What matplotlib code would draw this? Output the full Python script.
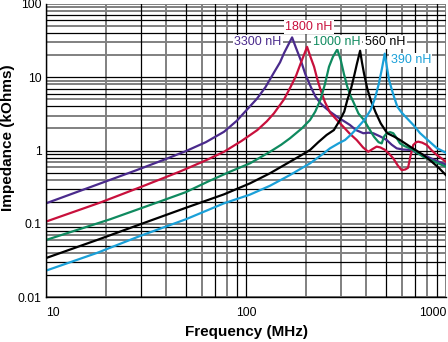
import numpy as np
import matplotlib
matplotlib.use("Agg")
import matplotlib.pyplot as plt

plt.rcParams['font.family'] = ['Liberation Sans', 'DejaVu Sans']

# Impedance vs frequency for five chip inductors (frequency in MHz, impedance in kOhms)
f_3300 = [10, 20, 28.4, 40, 50, 63, 77.6, 90, 100, 113.5, 125, 138, 148, 155, 163, 170,
          177, 187.7, 198, 210.6, 222, 236, 250, 263, 290, 310, 331, 355, 386, 410, 433,
          470, 505, 535, 567, 610, 661, 720, 770, 870, 1000]
z_3300 = [0.19, 0.38, 0.54, 0.77, 0.98, 1.3, 1.8, 2.55, 3.5, 5.1, 7.3, 11.6, 16, 21.4, 28, 35,
          26, 17.2, 11, 7.43, 5.5, 4.4, 3.8, 3.39, 2.8, 2.5, 2.23, 1.9, 1.72, 1.75, 1.72,
          1.55, 1.39, 1.2, 1.07, 1.03, 1.02, 0.93, 0.87, 0.75, 0.64]

f_1800 = [10, 18.6, 30, 46.8, 62, 77.6, 95, 113.9, 127, 138, 155, 167.3, 178, 187.7, 196, 202,
          210, 219, 227, 236, 248, 263, 285, 306.6, 330, 357.7, 385, 408.7, 430, 450, 470,
          495.5, 520, 545, 575, 600, 625, 646, 665, 686, 710, 727, 760, 801, 850, 899, 950, 1000]
z_1800 = [0.107, 0.194, 0.32, 0.517, 0.72, 0.96, 1.35, 1.9, 2.5, 3.22, 5.0, 7.43, 10.5, 15.5, 21, 26,
          19, 13.9, 9.5, 6.7, 4.6, 3.3, 2.6, 2.11, 1.7, 1.39, 1.1, 0.96, 1.05, 1.13, 1.1,
          1.02, 0.9, 0.78, 0.62, 0.54, 0.55, 0.58, 0.85, 1.19, 1.3, 1.32, 1.28, 1.19, 1.0, 0.87, 0.78, 0.70]

f_1000 = [10, 20.9, 35, 50, 65, 83.2, 104.7, 131.8, 150, 166, 190, 209, 222, 236, 248, 260,
          272, 286, 297.6, 309, 321, 333, 346.7, 365, 389, 412, 436.5, 460, 477, 490, 505,
          525, 545, 565, 589, 620, 661, 710, 770, 880, 1000]
z_1000 = [0.06, 0.115, 0.19, 0.27, 0.38, 0.514, 0.668, 0.96, 1.2, 1.47, 2.0, 2.61, 3.4, 5.0, 8.0, 13.9,
          19, 24, 17.2, 11, 7.43, 5.6, 4.4, 3.2, 2.61, 2.0, 1.54, 1.3, 1.25, 1.55, 1.72,
          1.78, 1.72, 1.5, 1.25, 1.15, 1.07, 0.95, 0.82, 0.7, 0.60]

f_560 = [10, 18, 29.5, 50, 77.6, 104.7, 131.8, 166, 190, 209, 230, 253, 275, 295, 310, 321,
         335, 346.7, 358, 372, 380, 389, 404, 420, 445, 471.5, 490, 508.6, 550, 589, 625,
         661, 710, 770, 850, 920, 1000]
z_560 = [0.034, 0.06, 0.098, 0.165, 0.252, 0.356, 0.489, 0.703, 0.87, 1.016, 1.3, 1.63, 1.9, 2.61, 3.4, 4.89,
         7.0, 10.2, 15, 23, 16, 11.3, 7.0, 4.89, 3.3, 2.35, 2.0, 1.72, 1.55, 1.39, 1.25,
         1.13, 1.0, 0.87, 0.7, 0.58, 0.46]

f_390 = [10, 18, 29.5, 50, 77.6, 104.7, 131.8, 166, 209, 240, 263, 290, 312.6, 335, 360, 390,
         420, 442, 462, 478, 494, 506, 519, 545, 571, 600, 636, 690, 741, 820, 899, 1000]
z_390 = [0.0229, 0.04, 0.068, 0.115, 0.19, 0.25, 0.33, 0.463, 0.668, 0.88, 1.07, 1.25, 1.39, 1.65, 2.03, 2.6,
         3.57, 5.2, 8.27, 13, 21, 14, 9.17, 5.8, 3.96, 3.3, 2.78, 2.2, 1.73, 1.35, 1.08, 0.93]

labels = ["3300 nH", "1800 nH", "1000 nH", "560 nH", "390 nH"]
colors = ["#4a2a8c", "#c8103c", "#0f8a5f", "#000000", "#1aa0d8"]
freqs = [f_3300, f_1800, f_1000, f_560, f_390]
imps = [z_3300, z_1800, z_1000, z_560, z_390]

x_ticks = [10, 100, 1000]
x_ticklabels = ["10", "100", "1000"]
y_ticks = [0.01, 0.1, 1, 10, 100]
y_ticklabels = ["0.01", "0.1", "1", "10", "100"]

W, H = 448, 342
fig = plt.figure(figsize=(W / 100, H / 100), dpi=100)
ax = fig.add_axes([46 / W, 1 - 297 / H, 400 / W, 293 / H])
ax.set_xscale("log")
ax.set_yscale("log")
ax.set_xlim(10, 1000)
ax.set_ylim(0.01, 100)

BLACK = "#000000"
GRAY = "#808080"

# vertical grid: decade lines and per-decade multiples
for dec, dark in [(10, {1, 3, 5, 7, 9}), (100, {1, 5, 7, 9})]:
    for m in range(1, 10):
        v = dec * m
        if m in dark:
            ax.axvline(v, color=BLACK, lw=0.9, zorder=1.1)
        else:
            ax.axvline(v, color=GRAY, lw=1.4, zorder=1)
ax.axvline(1000, color=GRAY, lw=1.4, zorder=1)

# horizontal grid
for dec, dark in [(0.01, {2, 3, 5, 8, 9}), (0.1, {2, 3, 5, 8, 9}), (1, {1, 4, 6, 7}), (10, {1, 4, 6, 7})]:
    for m in range(1, 10):
        v = dec * m
        if m in dark:
            ax.axhline(v, color=BLACK, lw=0.9, zorder=1.1)
        else:
            ax.axhline(v, color=GRAY, lw=1.4, zorder=1)
ax.axhline(100, color=GRAY, lw=1.4, zorder=1)

for f, z, c in zip(freqs, imps, colors):
    ax.plot(f, z, color=c, lw=1.6, solid_joinstyle="round", zorder=3)

for s in ["top", "right"]:
    ax.spines[s].set_visible(False)
for s in ["left", "bottom"]:
    ax.spines[s].set_color(BLACK)
    ax.spines[s].set_linewidth(1.0)
    ax.spines[s].set_zorder(4)

ax.set_xticks(x_ticks)
ax.set_xticklabels(x_ticklabels)
ax.set_yticks(y_ticks)
ax.set_yticklabels(y_ticklabels)
ax.minorticks_off()
ax.tick_params(axis="both", length=0, labelsize=8.7, colors=BLACK)
ax.tick_params(axis="x", pad=7)
ax.tick_params(axis="y", pad=3)
xl = ax.get_xticklabels()
xl[0].set_ha("left")
xl[-1].set_ha("right")

fig.text(246 / W, 1 - 332 / H, "Frequency (MHz)", ha="center", va="center",
         fontsize=11, fontweight="bold")
fig.text(8.5 / W, 1 - 137.5 / H, "Impedance (kOhms)", ha="center", va="center",
         rotation=90, fontsize=11, fontweight="bold")

label_pos = [(258, 42), (309, 27), (336.5, 42), (385, 42), (410.7, 60)]
for (px, py), txt, c in zip(label_pos, labels, colors):
    fig.text(px / W, 1 - py / H, txt, ha="center", va="center", fontsize=9, color=c,
             bbox=dict(facecolor="white", edgecolor="none", pad=1.0), zorder=5)

fig.savefig("out.png", dpi=100)
